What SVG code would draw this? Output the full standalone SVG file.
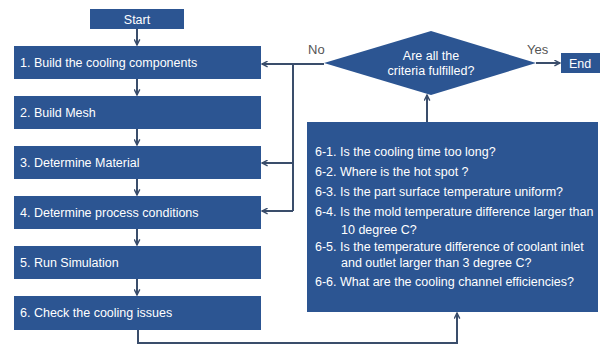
<svg xmlns="http://www.w3.org/2000/svg" width="600" height="346" viewBox="0 0 600 346">
<defs>
<marker id="ah" viewBox="0 0 10 10" refX="9" refY="5" markerWidth="7" markerHeight="7" markerUnits="userSpaceOnUse" orient="auto">
<path d="M1,1 L9,5 L1,9" fill="none" stroke="#3a4d6b" stroke-width="2"/>
</marker>
<style>
.box{fill:#2c5592;}
.t{font-family:"Liberation Sans",Arial,sans-serif;font-size:12.5px;fill:#ffffff;}
.c{text-anchor:middle;}
.lbl{font-family:"Liberation Sans",Arial,sans-serif;font-size:13px;fill:#555555;}
.con{fill:none;stroke:#3a4d6b;stroke-width:2;}
</style>
</defs>
<rect width="600" height="346" fill="#ffffff"/>
<g id="start"><rect class="box" x="90" y="9" width="94" height="20"/><text class="t c" x="137" y="24">Start</text></g>
<g id="step1"><rect class="box" x="14" y="46" width="247" height="33"/><text class="t" x="20" y="67">1. Build the cooling components</text></g>
<g id="step2"><rect class="box" x="14" y="96" width="247" height="33"/><text class="t" x="20" y="117">2. Build Mesh</text></g>
<g id="step3"><rect class="box" x="14" y="146" width="247" height="33"/><text class="t" x="20" y="167">3. Determine  Material</text></g>
<g id="step4"><rect class="box" x="14" y="196" width="247" height="33"/><text class="t" x="20" y="217">4. Determine  process conditions</text></g>
<g id="step5"><rect class="box" x="14" y="246" width="247" height="33"/><text class="t" x="20" y="267">5. Run Simulation</text></g>
<g id="step6"><rect class="box" x="14" y="296" width="247" height="34"/><text class="t" x="20" y="317">6. Check the cooling issues</text></g>
<g id="decision"><polygon class="box" points="324,63 431,31 536,63 431,95"/><text class="t c" x="431" y="60">Are all the</text><text class="t c" x="431" y="75">criteria fulfilled?</text></g>
<g id="end"><rect class="box" x="561" y="53" width="39" height="20"/><text class="t c" x="580" y="68">End</text></g>
<g id="issues"><rect class="box" x="307" y="122" width="291" height="190"/>
<text class="t" x="315" y="156">6-1. Is the cooling time too long?</text>
<text class="t" x="315" y="176">6-2. Where is the hot spot ?</text>
<text class="t" x="315" y="196">6-3. Is the part surface temperature uniform?</text>
<text class="t" x="315" y="216">6-4. Is the mold temperature difference larger than</text>
<text class="t" x="341" y="234">10 degree C?</text>
<text class="t" x="315" y="251">6-5. Is the temperature difference of coolant inlet</text>
<text class="t" x="341" y="267">and outlet larger than 3 degree C?</text>
<text class="t" x="315" y="286">6-6. What are the cooling channel efficiencies?</text>
</g>
<g id="connectors">
<path class="con" d="M137,29 V45" marker-end="url(#ah)"/>
<path class="con" d="M137,79 V95" marker-end="url(#ah)"/>
<path class="con" d="M137,129 V145" marker-end="url(#ah)"/>
<path class="con" d="M137,179 V195" marker-end="url(#ah)"/>
<path class="con" d="M137,229 V245" marker-end="url(#ah)"/>
<path class="con" d="M137,279 V295" marker-end="url(#ah)"/>
<path class="con" d="M324,64 H262" marker-end="url(#ah)"/>
<path class="con" d="M293,64 V211"/>
<path class="con" d="M293,163 H262" marker-end="url(#ah)"/>
<path class="con" d="M293,211 H262" marker-end="url(#ah)"/>
<path class="con" d="M536,63 H560" marker-end="url(#ah)"/>
<path class="con" d="M427,122 V95" marker-end="url(#ah)"/>
<path class="con" d="M138,330 V343 H457 V313" marker-end="url(#ah)"/>
<text class="lbl" x="308" y="54">No</text>
<text class="lbl" x="527" y="54">Yes</text>
</g>
</svg>
